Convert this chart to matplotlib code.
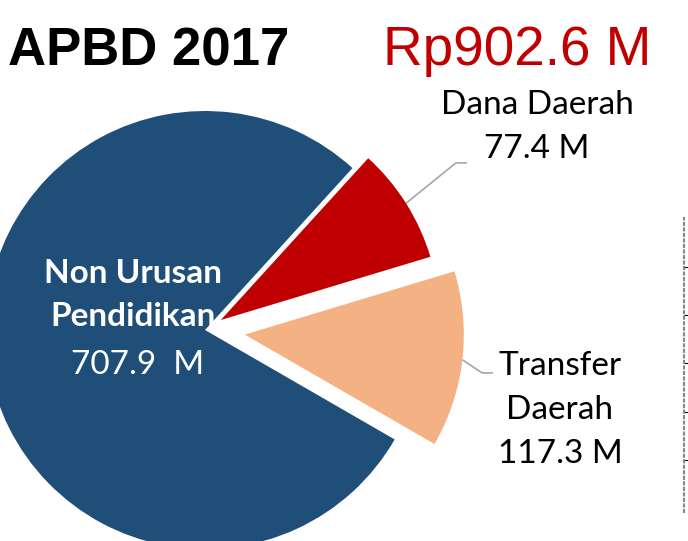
import numpy as np
import matplotlib.pyplot as plt

# APBD 2017 breakdown (Rp, M)
labels = ['Dana Daerah', 'Non Urusan\nPendidikan', 'Transfer\nDaerah']
values = [77.4, 707.9, 117.3]
value_text = ['77.4 M', '707.9  M', '117.3 M']
colors = ['#C00000', '#1F4E79', '#F4B183']
explode = [0.085, 0.0, 0.183]
total_text = 'Rp902.6 M'

plt.rcParams['font.family'] = ['Lato', 'DejaVu Sans']

W, H = 688, 541
R_PX = 219.0          # pie radius in pixels
CX, CY = 205, 330     # pie centre in pixels (from top-left)

fig = plt.figure(figsize=(W / 100, H / 100), dpi=100)
ax = fig.add_axes([0, 0, 1, 1])
wedges, _ = ax.pie(values, colors=colors, explode=explode, startangle=16.8,
                   radius=1, wedgeprops=dict(linewidth=0))
ax.set_xlim(-CX / R_PX, (W - CX) / R_PX)
ax.set_ylim(-(H - CY) / R_PX, CY / R_PX)
ax.set_aspect('equal')
ax.axis('off')

# labels
fs = 24
ls = 1.58
ax.text(-0.329, 0.158, labels[1], color='white', fontsize=fs,
        fontweight='bold', ha='center', va='center', linespacing=ls)
ax.text(-0.31, -0.16, value_text[1], color='white', fontsize=fs,
        ha='center', va='center')
ax.text(1.516, 0.927, labels[0] + '\n' + value_text[0], color='black',
        fontsize=fs, ha='center', va='center', linespacing=ls)
ax.text(1.621, -0.365, labels[2] + '\n' + value_text[2], color='black',
        fontsize=fs, ha='center', va='center', linespacing=ls)

# leader lines: from wedge arc middle to an elbow, then short horizontal
elbows = {0: ((1.146, 0.763), (1.196, 0.763)),
          2: ((1.265, -0.196), (1.315, -0.196))}
for i, (elb, end) in elbows.items():
    w = wedges[i]
    mid = np.deg2rad((w.theta1 + w.theta2) / 2)
    cx, cy = w.center
    sx, sy = cx + np.cos(mid), cy + np.sin(mid)
    ax.plot([sx, elb[0], end[0]], [sy, elb[1], end[1]], color='#A6A6A6',
            linewidth=1.2, solid_capstyle='butt')

# titles
fig.text(8 / W, 1 - 51 / H, 'APBD 2017', fontsize=38, fontweight='bold',
         family='Liberation Sans', ha='left', va='center')
fig.text(383 / W, 1 - 51 / H, total_text, fontsize=39.5, color='#C00000',
         family='Liberation Sans', ha='left', va='center')

# edge of the neighbouring chart
ax2 = fig.add_axes([684 / W, 1 - 512 / H, 0.2, (512 - 218) / H])
for s in ['top', 'right', 'bottom']:
    ax2.spines[s].set_visible(False)
ax2.spines['left'].set_linestyle(':')
ax2.spines['left'].set_color('#888888')
ax2.spines['left'].set_linewidth(1.5)
ax2.set_ylim(0, 294)
ax2.set_yticks([512 - 267, 512 - 315, 512 - 363, 512 - 412, 512 - 460])
ax2.tick_params(axis='y', direction='in', length=4, labelleft=False)
ax2.set_xticks([])
ax2.patch.set_alpha(0)

fig.savefig('out.png', dpi=100)
